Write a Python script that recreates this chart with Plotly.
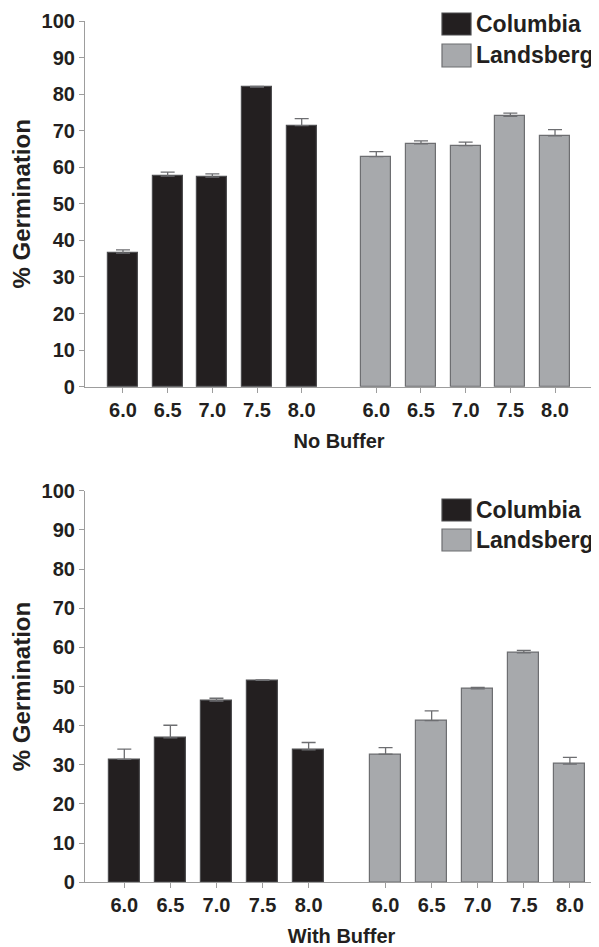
import plotly.graph_objects as go
from plotly.subplots import make_subplots

ph_labels = ["6.0", "6.5", "7.0", "7.5", "8.0"]
strains = ["Columbia", "Landsberg"]
panel_titles = ["No Buffer", "With Buffer"]

# % germination, top panel (no buffer)
no_buffer_columbia = [36.5, 57.6, 57.3, 81.9, 71.4]
no_buffer_columbia_err = [0.9, 1.1, 0.9, 0.2, 1.9]
no_buffer_landsberg = [62.9, 66.4, 65.9, 73.9, 68.6]
no_buffer_landsberg_err = [1.4, 0.8, 1.0, 0.9, 1.7]

# % germination, bottom panel (with buffer)
with_buffer_columbia = [31.4, 36.9, 46.3, 51.6, 33.8]
with_buffer_columbia_err = [2.6, 3.2, 0.7, 0.1, 1.9]
with_buffer_landsberg = [32.7, 41.3, 49.4, 58.6, 30.2]
with_buffer_landsberg_err = [1.7, 2.5, 0.4, 0.6, 1.7]

panels = [
    [(no_buffer_columbia, no_buffer_columbia_err), (no_buffer_landsberg, no_buffer_landsberg_err)],
    [(with_buffer_columbia, with_buffer_columbia_err), (with_buffer_landsberg, with_buffer_landsberg_err)],
]

FONT = "Liberation Sans, Arial, sans-serif"
TEXT = "#231f20"
AXIS = "#9d9d9d"
fills = ["#231f20", "#a7a9ac"]
outlines = ["#4d4d4f", "#6d6e71"]
group_gap = 0.67

# page body has an 8px margin, so the figure is 8px smaller than the window
OFF = 8
W, H = 599 - OFF, 947 - OFF
ML, MR = 85 - OFF, 0
PW = W - ML - MR


def px_x(px):
    return (px - OFF - ML) / PW


def px_y(py):
    return 1 - (py - OFF) / H


fig = make_subplots(rows=2, cols=1)

tick_pos = []
for g in range(len(strains)):
    for i in range(len(ph_labels)):
        tick_pos.append(g * (len(ph_labels) + group_gap) + i)

for p, groups in enumerate(panels):
    for g, (vals, errs) in enumerate(groups):
        xs = [g * (len(ph_labels) + group_gap) + i for i in range(len(vals))]
        fig.add_trace(go.Bar(
            x=xs, y=vals, name=strains[g], width=0.67,
            marker=dict(color=fills[g], line=dict(color=outlines[g], width=1.2)),
            error_y=dict(type="data", array=errs, symmetric=False,
                         arrayminus=[0] * len(errs),
                         color="#6d6e71", thickness=1.3, width=7),
            showlegend=False,
        ), row=p + 1, col=1)

axis_common = dict(
    showline=True, linecolor=AXIS, linewidth=1.2,
    ticks="outside", tickcolor=AXIS, ticklen=5, tickwidth=1.2,
    showgrid=False, zeroline=False, automargin=False,
    tickfont=dict(family=FONT, size=20, color=TEXT, weight="bold"),
)

# pixel geometry of the two panels (window pixels)
x_ranges = [[-0.85, 10.52], [-0.853, 10.28]]
x_ends = [593, 598]
y_tops = [21, 490.7]
y_bottoms = [386.7, 882.3]

for p in range(2):
    sfx = "" if p == 0 else "2"
    fig.layout["xaxis" + sfx].update(
        domain=[0, px_x(x_ends[p])],
        range=x_ranges[p],
        tickvals=tick_pos,
        ticktext=ph_labels * 2,
        title=dict(text=panel_titles[p], standoff=14,
                   font=dict(family=FONT, size=20, color=TEXT, weight="bold")),
        **axis_common,
    )
    fig.layout["yaxis" + sfx].update(
        domain=[px_y(y_bottoms[p]), px_y(y_tops[p])],
        range=[0, 100], dtick=10,
        title=dict(text="% Germination", standoff=6,
                   font=dict(family=FONT, size=24, color=TEXT, weight="bold")),
        **axis_common,
    )

# legend drawn as boxes + labels to match the large swatches
legend_rows = [[(13, 35), (44, 67)], [(499, 521), (529, 551)]]
for p in range(2):
    for g in range(len(strains)):
        y0, y1 = legend_rows[p][g]
        fig.add_shape(
            type="rect", xref="paper", yref="paper",
            x0=px_x(442), x1=px_x(471),
            y0=px_y(y1), y1=px_y(y0),
            fillcolor=fills[g], line=dict(color=outlines[g], width=1.2),
        )
        fig.add_annotation(
            text=strains[g], xref="paper", yref="paper",
            x=px_x(474), y=px_y((y0 + y1) / 2),
            xanchor="left", yanchor="middle", showarrow=False,
            font=dict(family=FONT, size=23, color=TEXT, weight="bold"),
        )

fig.update_layout(
    width=W, height=H,
    margin=dict(l=ML, r=MR, t=0, b=0),
    plot_bgcolor="white", paper_bgcolor="white",
    bargap=0,
)

fig.write_html("out.html")
